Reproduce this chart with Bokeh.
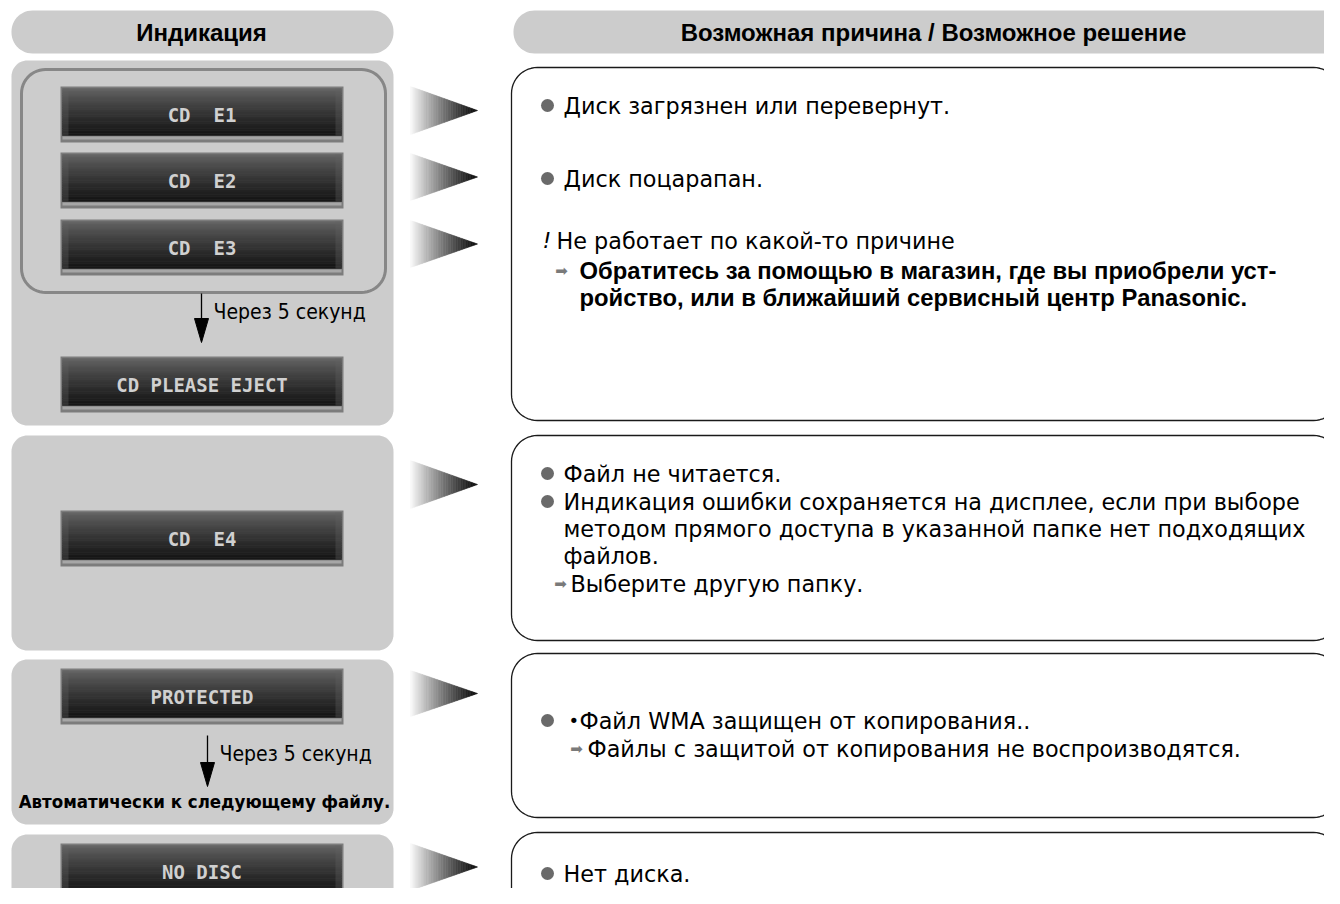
import numpy as np
from bokeh.plotting import figure
from bokeh.models import Range1d
from bokeh.core.properties import value
from bokeh.embed import file_html
from bokeh.resources import INLINE

# ---------------- data ----------------
header_left = "Индикация"
header_right = "Возможная причина / Возможное решение"

NB = "\u00a0"
display_labels = ["CD" + NB * 2 + "E1", "CD" + NB * 2 + "E2", "CD" + NB * 2 + "E3", "CD PLEASE EJECT",
                  "CD" + NB * 2 + "E4", "PROTECTED", "NO DISC"]
display_tops = [86, 152, 219, 356, 510, 668, 843]

panel_tops = [60, 435, 659, 834]
panel_bottoms = [425, 650, 824, 940]

box_tops = [67, 435, 653, 832]
box_bottoms = [420, 640, 817, 950]

pointer_tops = [86, 153, 220, 460, 670, 843]
pointer_bottoms = [134, 200, 267, 508, 716, 890]

bullet_y = [105, 178, 473, 501, 720, 873]

regular_x = [563, 563, 556, 563, 563, 563, 563, 570, 579, 587, 563]
regular_y = [105, 178, 240, 473, 501, 528, 555, 583, 720, 748, 873]
regular_text = [
    "Диск загрязнен или перевернут.",
    "Диск поцарапан.",
    "Не работает по какой-то причине",
    "Файл не читается.",
    "Индикация ошибки сохраняется на дисплее, если при выборе",
    "методом прямого доступа в указанной папке нет подходящих",
    "файлов.",
    "Выберите другую папку.",
    "Файл WMA защищен от копирования..",
    "Файлы с защитой от копирования не воспроизводятся.",
    "Нет диска.",
]
bold_x = [579, 579]
bold_y = [270, 297]
bold_text = [
    "Обратитесь за помощью в магазин, где вы приобрели уст-",
    "ройство, или в ближайший сервисный центр Panasonic.",
]
arrow_mark_x = [561, 560, 576]
arrow_mark_y = [270, 583, 748]

transition_text = ["Через 5 секунд", "Через 5 секунд"]
transition_x = [201, 207]
transition_y0 = [293, 735]
transition_y1 = [342, 786]
auto_text = "Автоматически к следующему файлу."

# ---------------- figure ----------------
W, H = 1324, 888
p = figure(width=W, height=H, x_range=Range1d(0, W), y_range=Range1d(H, 0),
           output_backend="svg", toolbar_location=None, min_border=0)
p.axis.visible = False
p.grid.visible = False
p.outline_line_color = None
p.background_fill_color = "white"
p.border_fill_color = "white"

SANS = value("Liberation Sans")
BODY = value("DejaVu Sans")
NARROW = value("DejaVu Sans Condensed")


def rrect(x0, y0, x1, y1, r, n=14):
    xs, ys = [], []
    for cx, cy, a0, a1 in [(x1 - r, y0 + r, -90, 0), (x1 - r, y1 - r, 0, 90),
                           (x0 + r, y1 - r, 90, 180), (x0 + r, y0 + r, 180, 270)]:
        t = np.radians(np.linspace(a0, a1, n))
        xs += list(cx + r * np.cos(t))
        ys += list(cy + r * np.sin(t))
    return xs, ys


def gray(v):
    v = int(max(0, min(255, round(v))))
    return "#%02x%02x%02x" % (v, v, v)


# header pills
for x0, x1, txt, cx in [(11, 393, header_left, 201), (513, 1380, header_right, 933)]:
    xs, ys = rrect(x0, 10, x1, 53, 21)
    p.patch(xs, ys, fill_color="#cccccc", line_color=None)
    p.text(x=[cx], y=[32], text=[txt], text_font=SANS, text_font_style="bold",
           text_font_size="24px", text_align="center", text_baseline="middle", text_color="black")

# left gray panels
for t, b in zip(panel_tops, panel_bottoms):
    xs, ys = rrect(11, t, 393, b, 16)
    p.patch(xs, ys, fill_color="#cccccc", line_color=None)

# inner outline around E1-E3
xs, ys = rrect(21, 69, 385, 292, 24)
p.patch(xs, ys, fill_color=None, line_color="#878787", line_width=3)

# right outlined boxes
for t, b in zip(box_tops, box_bottoms):
    xs, ys = rrect(511, t, 1339, b, 26)
    p.patch(xs, ys, fill_color="white", line_color="#1a1a1a", line_width=1.3)

# LCD displays
DX0, DX1, DH = 60, 343, 56
for lab, t in zip(display_labels, display_tops):
    p.quad(left=[DX0], right=[DX1], top=[t], bottom=[t + DH], fill_color="#7c7c7c", line_color=None)
    n = 20
    edges = np.linspace(t + 2, t + 49, n + 1)
    cols = [gray(100 - 78 * (i / (n - 1)) ** 0.8) for i in range(n)]
    p.quad(left=[DX0 + 2] * n, right=[DX1 - 2] * n, top=list(edges[:-1]), bottom=list(edges[1:]),
           fill_color=cols, line_color=cols, line_width=0.5)
    p.quad(left=[DX0 + 2, DX1 - 8], right=[DX0 + 8, DX1 - 2], top=[t + 2] * 2, bottom=[t + 49] * 2,
           fill_color="#606060", fill_alpha=0.35, line_color=None)
    p.quad(left=[DX0 + 2], right=[DX1 - 2], top=[t + 50], bottom=[t + 53], fill_color="#a6a6a6", line_color=None)
    p.text(x=[(DX0 + DX1) / 2], y=[t + DH / 2], text=[lab], text_font=value("DejaVu Sans Mono"),
           text_font_style="bold", text_font_size="19px", text_align="center", text_baseline="middle",
           text_color="#d0d0d0")

# gradient pointer triangles
TX0, TX1 = 410, 477
ns = 40
for t, b in zip(pointer_tops, pointer_bottoms):
    mid = (t + b) / 2
    xe = np.linspace(TX0, TX1, ns + 1)
    pxs, pys, cols = [], [], []
    for i in range(ns):
        xa, xb = xe[i], xe[i + 1]
        fa, fb = (xa - TX0) / (TX1 - TX0), (xb - TX0) / (TX1 - TX0)
        pxs.append([xa, xb, xb, xa])
        pys.append([t + (mid - t) * fa, t + (mid - t) * fb, b - (b - mid) * fb, b - (b - mid) * fa])
        f = (i + 0.5) / ns
        cols.append(gray(240 * (1 - f) ** 1.2 + 12))
    p.patches(pxs, pys, fill_color=cols, line_color=cols, line_width=0.6)

# transition arrows and texts
for x, y0, y1, txt in zip(transition_x, transition_y0, transition_y1, transition_text):
    p.segment(x0=[x], y0=[y0], x1=[x], y1=[y1 - 10], line_color="black", line_width=1.3)
    p.patch([x - 7, x + 7, x], [y1 - 24, y1 - 24, y1], fill_color="black", line_color="black")
    p.text(x=[x + 12], y=[y0 + 18], text=[txt], text_font=NARROW, text_font_size="21px",
           text_align="left", text_baseline="middle", text_color="black")

p.text(x=[204], y=[801], text=[auto_text], text_font=NARROW, text_font_style="bold",
       text_font_size="18.5px", text_align="center", text_baseline="middle", text_color="black")

# right-hand texts
p.scatter(x=[547] * len(bullet_y), y=bullet_y, size=13, marker="circle", fill_color="#6a6a6a", line_color=None)
p.text(x=regular_x, y=regular_y, text=regular_text, text_font=BODY, text_font_size="22.3px",
       text_align="left", text_baseline="middle", text_color="black")
p.text(x=bold_x, y=bold_y, text=bold_text, text_font=SANS, text_font_style="bold", text_font_size="23.8px",
       text_align="left", text_baseline="middle", text_color="black")
p.text(x=[542], y=[240], text=["!"], text_font=BODY, text_font_style="italic", text_font_size="22px",
       text_align="left", text_baseline="middle", text_color="black")
p.text(x=[568], y=[720], text=["•"], text_font=BODY, text_font_size="18px",
       text_align="left", text_baseline="middle", text_color="black")
p.text(x=arrow_mark_x, y=arrow_mark_y, text=["➡"] * len(arrow_mark_x), text_font=value("DejaVu Sans"),
       text_font_size="15px", text_align="center", text_baseline="middle", text_color="#7a7a7a")

open("out.html", "w").write(file_html(p, INLINE))
